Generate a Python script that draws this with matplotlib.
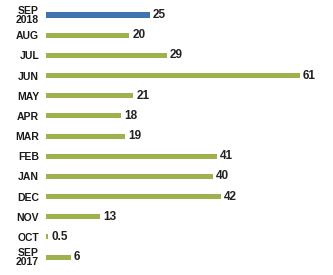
import matplotlib
matplotlib.use("Agg")
import matplotlib.pyplot as plt
from matplotlib.transforms import offset_copy

categories = ["SEP\n2018", "AUG", "JUL", "JUN", "MAY", "APR", "MAR", "FEB", "JAN", "DEC", "NOV", "OCT", "SEP\n2017"]
values = [25, 20, 29, 61, 21, 18, 19, 41, 40, 42, 13, 0.5, 6]
value_labels = ["25", "20", "29", "61", "21", "18", "19", "41", "40", "42", "13", "0.5", "6"]
colors = ["#3f74ad"] + ["#9db14c"] * 12

fig = plt.figure(figsize=(3.33, 2.75), dpi=100)
ax = fig.add_axes([46/333, 0, 1 - 46/333, 1])
pos = list(range(len(categories)))
ax.barh(pos, values, height=0.25, color=colors)
ax.set_xlim(0, 61 * 287 / 254)
ax.set_ylim(12.89, -0.744)
ax.set_yticks(pos)
ax.set_yticklabels(categories, fontsize=7.5, fontweight="bold", family="Liberation Sans",
                   linespacing=0.85, color="#1a1a1a")
ax.tick_params(axis="y", length=0, pad=5)
ax.set_xticks([])
for s in ax.spines.values():
    s.set_visible(False)
for i, (v, lab) in enumerate(zip(values, value_labels)):
    tr = offset_copy(ax.transData, fig=fig, x=3, y=0, units="dots")
    ax.text(v, i, lab, transform=tr, ha="left", va="center", fontsize=8.5,
            fontweight="bold", family="Liberation Sans", color="#222222")
fig.savefig("out.png", dpi=100)
